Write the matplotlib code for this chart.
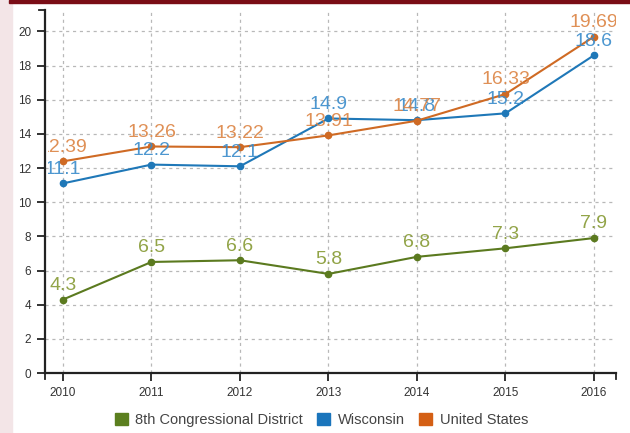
import matplotlib
matplotlib.use("Agg")
import matplotlib.pyplot as plt
from matplotlib.patches import Patch, Rectangle
from matplotlib.lines import Line2D

plt.rcParams['font.family'] = ['Liberation Sans', 'DejaVu Sans']

# datos
years = [2010, 2011, 2012, 2013, 2014, 2015, 2016]
district = [4.3, 6.5, 6.6, 5.8, 6.8, 7.3, 7.9]
wisconsin = [11.1, 12.2, 12.1, 14.9, 14.8, 15.2, 18.6]
usa = [12.39, 13.26, 13.22, 13.91, 14.77, 16.33, 19.69]

series_names = ["8th Congressional District", "Wisconsin", "United States"]
line_colors = ["#5b7a1f", "#1f78b8", "#cf6a24"]
label_colors = ["#869a34", "#3a8ccb", "#dc8444"]
legend_colors = ["#5b7f1f", "#1a75bc", "#d45f14"]
y_ticks = [0, 2, 4, 6, 8, 10, 12, 14, 16, 18, 20]

W, H = 630, 433
fig = plt.figure(figsize=(W / 100, H / 100), dpi=100)
fig.patch.set_facecolor("white")

# franja rosa izquierda y barra roja arriba
fig.patches.append(Rectangle((0, 0), 12 / W, 1, transform=fig.transFigure,
                             color="#f3e5e7", zorder=0))
fig.patches.append(Rectangle((9 / W, 1 - 3 / H), 1, 3 / H, transform=fig.transFigure,
                             color="#7a0d16", zorder=1))

ax = fig.add_axes([45 / W, 60 / H, (616 - 45) / W, (373 - 10) / H])
ax.set_facecolor("white")
ax.set_xlim(2009.797, 2016.249)
ax.set_ylim(0, 21.25)

ax.set_xticks(years)
ax.set_yticks(y_ticks)
ax.grid(True, color="#b8b8b8", linestyle=(0, (2.5, 3)), linewidth=0.9)
ax.set_axisbelow(True)

for s in ["top", "right"]:
    ax.spines[s].set_visible(False)
for s in ["left", "bottom"]:
    ax.spines[s].set_color("#222222")
    ax.spines[s].set_linewidth(1.6)
ax.tick_params(axis="both", length=6, width=1.3, color="#222222",
               labelsize=8.5, labelcolor="#333333", pad=4)

# ticks exteriores (estilo d3)
tx = 6 / (616 - 45)
ty = 6 / (373 - 10)
for xs, ys in [([0, -tx], [1, 1]), ([0, 0], [0, -ty]), ([1, 1], [0, -ty])]:
    ax.add_line(Line2D(xs, ys, transform=ax.transAxes, color="#222222",
                       linewidth=1.3, clip_on=False))

# recorte lateral de las etiquetas
clip = Rectangle((0.006, -0.2), 0.994, 1.4, transform=ax.transAxes, visible=False)
ax.add_patch(clip)

for vals, lc, tc in zip([district, wisconsin, usa], line_colors, label_colors):
    ax.plot(years, vals, color=lc, linewidth=1.5, marker="o", markersize=4.5,
            zorder=3)
    for x, y in zip(years, vals):
        t = ax.annotate(f"{y:g}", (x, y), xytext=(0, 4), textcoords="offset points",
                        ha="center", va="bottom", fontsize=14, color=tc,
                        alpha=0.9, zorder=4)
        t.set_clip_path(clip)

handles = [Patch(facecolor=c, edgecolor=c) for c in legend_colors]
fig.legend(handles, series_names, loc="center", bbox_to_anchor=(0.51, 13 / H),
           ncol=3, frameon=False, fontsize=10.5, handlelength=0.9,
           handleheight=0.9, handletextpad=0.5, columnspacing=1.0,
           labelcolor="#444444")

fig.savefig("out.png", dpi=100, facecolor=fig.get_facecolor())
